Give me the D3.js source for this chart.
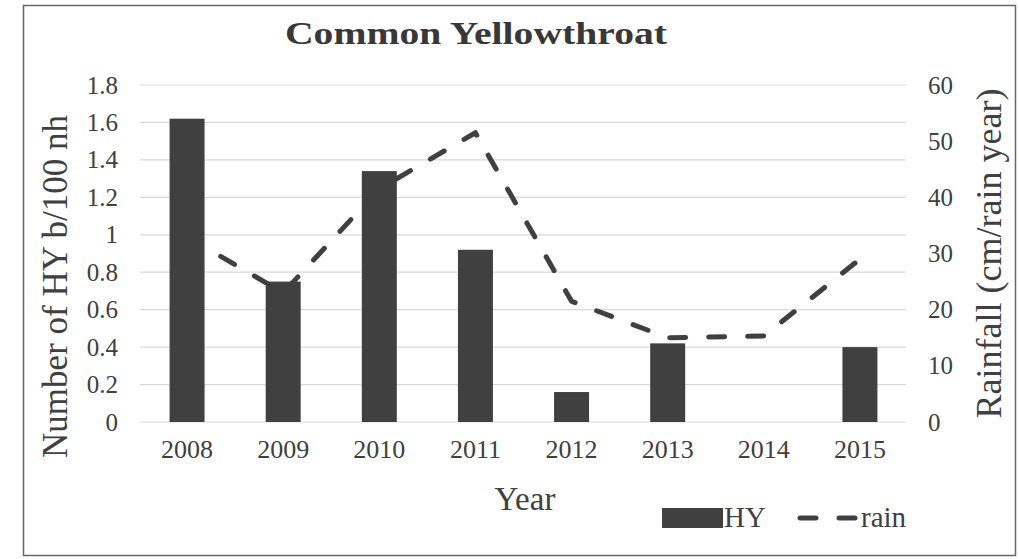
<!DOCTYPE html>
<html>
<head>
<meta charset="utf-8">
<script src="https://cdn.jsdelivr.net/npm/d3@7"></script>
<style>
  html, body { margin: 0; padding: 0; background: #fff; }
  svg { display: block; }
</style>
</head>
<body>
<svg id="chart" width="1019" height="559"></svg>
<script>
// Half-year birds per 100 net hours and yearly rainfall
const years = ["2008", "2009", "2010", "2011", "2012", "2013", "2014", "2015"];
const hyValues = [1.62, 0.75, 1.34, 0.92, 0.16, 0.42, 0, 0.40];
const rainValues = [33, 23, 41.5, 51.5, 21.5, 15, 15.3, 29];
const leftTicks = [0, 0.2, 0.4, 0.6, 0.8, 1, 1.2, 1.4, 1.6, 1.8];
const rightTicks = [0, 10, 20, 30, 40, 50, 60];

const serif = '"Liberation Serif"';
const svg = d3.select("#chart");
const ink = "#404040";

// frame
svg.append("rect")
  .attr("x", 23.5).attr("y", 5.5)
  .attr("width", 992).attr("height", 550)
  .attr("fill", "none").attr("stroke", "#666").attr("stroke-width", 1.5);

const x = d3.scaleBand().domain(years).range([139, 908])
  .paddingInner(0.636).paddingOuter(0.318);
const yL = d3.scaleLinear().domain([0, 1.8]).range([422, 85]);
const yR = d3.scaleLinear().domain([0, 60]).range([422, 85]);

// horizontal gridlines
svg.append("g").selectAll("line").data(leftTicks).join("line")
  .attr("x1", 140).attr("x2", 906)
  .attr("y1", d => yL(d)).attr("y2", d => yL(d))
  .attr("stroke", "#d9d9d9").attr("stroke-width", 1.2);

function styleAxis(g, size) {
  g.attr("font-family", null);
  g.select(".domain").remove();
  g.selectAll("text").attr("font-size", size)
    .style("font-family", serif).style("fill", ink);
}

// left axis
const gL = svg.append("g").attr("transform", "translate(118,0)")
  .call(d3.axisLeft(yL).tickValues(leftTicks).tickSize(0).tickPadding(0)
    .tickFormat(d => String(+d.toFixed(1))));
styleAxis(gL, 25);

// right axis
const gR = svg.append("g").attr("transform", "translate(928,0)")
  .call(d3.axisRight(yR).tickValues(rightTicks).tickSize(0).tickPadding(0));
styleAxis(gR, 25);

// bottom axis labels
const gB = svg.append("g").attr("transform", "translate(0,440)")
  .call(d3.axisBottom(x).tickSize(0).tickPadding(0));
styleAxis(gB, 26);
gB.selectAll("text").attr("dy", "0.71em");

// bars
svg.append("g").selectAll("rect").data(years).join("rect")
  .attr("x", d => x(d))
  .attr("width", x.bandwidth())
  .attr("y", (d, i) => yL(hyValues[i]))
  .attr("height", (d, i) => yL(0) - yL(hyValues[i]))
  .attr("fill", ink);

// rainfall line
const line = d3.line()
  .x((d, i) => x(years[i]) + x.bandwidth() / 2)
  .y(d => yR(d));
svg.append("path")
  .datum(rainValues)
  .attr("d", line)
  .attr("fill", "none")
  .attr("stroke", ink)
  .attr("stroke-width", 5)
  .attr("stroke-dasharray", "16,23")
  .attr("stroke-linecap", "round")
  .attr("stroke-linejoin", "round");

function label(sel, size) {
  return sel.attr("font-size", size).style("font-family", serif).style("fill", ink);
}

// title
label(svg.append("text"), 32)
  .attr("x", 285).attr("y", 44)
  .attr("textLength", 382).attr("lengthAdjust", "spacingAndGlyphs")
  .attr("font-weight", "bold").style("fill", "#383838")
  .text("Common Yellowthroat");

// axis titles
label(svg.append("text"), 35)
  .attr("transform", "translate(67,286.5) rotate(-90)")
  .attr("text-anchor", "middle")
  .text("Number of HY b/100 nh");
label(svg.append("text"), 36)
  .attr("transform", "translate(1001,253.5) rotate(-90)")
  .attr("text-anchor", "middle")
  .text("Rainfall (cm/rain year)");
label(svg.append("text"), 33)
  .attr("x", 525).attr("y", 510)
  .attr("text-anchor", "middle")
  .text("Year");

// legend
const legend = svg.append("g");
legend.append("rect")
  .attr("x", 662).attr("y", 508).attr("width", 61).attr("height", 20)
  .attr("fill", ink);
label(legend.append("text"), 29)
  .attr("x", 724).attr("y", 527)
  .text("HY");
legend.append("line")
  .attr("x1", 800).attr("x2", 856).attr("y1", 518).attr("y2", 518)
  .attr("stroke", ink).attr("stroke-width", 5)
  .attr("stroke-dasharray", "16,23").attr("stroke-linecap", "round");
label(legend.append("text"), 29)
  .attr("x", 861).attr("y", 527)
  .text("rain");
</script>
</body>
</html>
